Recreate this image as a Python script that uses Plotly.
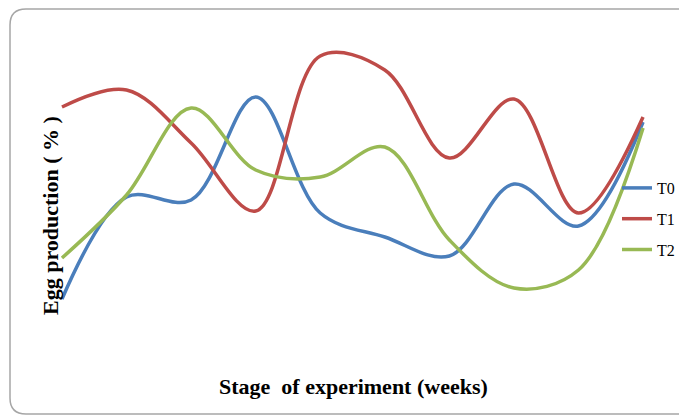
import plotly.graph_objects as go

weeks = [1, 2, 3, 4, 5, 6, 7, 8, 9, 10]
t0 = [20.2, 40.6, 40.0, 60.6, 37.4, 32.6, 28.8, 43.2, 34.8, 55.6]
t1 = [58.6, 62.0, 51.4, 37.8, 68.8, 66.0, 48.4, 60.2, 37.4, 56.6]
t2 = [28.4, 41.0, 58.4, 46.0, 44.6, 50.6, 32.0, 22.4, 26.0, 54.4]
names = ["T0", "T1", "T2"]
colors = ["#4A7EBB", "#BE4B48", "#98B954"]
SERIF = "Liberation Serif"

# page body has an 8px margin: work in window pixels, figure offset by 8
OFF = 8
W, H = 687 - OFF, 417 - OFF
ml, mr, mt, mb = 52, 0, 22, 67

fig = go.Figure()
for i, (nm, ys) in enumerate(zip(names, [t0, t1, t2])):
    fig.add_trace(go.Scatter(
        x=weeks, y=ys, name=nm, mode="lines", legendgroup=nm,
        line=dict(color=colors[i], width=3.5, shape="spline", smoothing=1.0),
    ))

pw, ph = W - ml - mr, H - mt - mb
def px(x):  # window pixel -> paper
    return (x - OFF - ml) / pw
def py(y):
    return (H - mb - (y - OFF)) / ph

x0, x1, y0, y1, r = 10, 700, 9, 414, 16
path = (f"M {px(x0 + r)},{py(y0)} L {px(x1 - r)},{py(y0)} "
        f"Q {px(x1)},{py(y0)} {px(x1)},{py(y0 + r)} L {px(x1)},{py(y1 - r)} "
        f"Q {px(x1)},{py(y1)} {px(x1 - r)},{py(y1)} L {px(x0 + r)},{py(y1)} "
        f"Q {px(x0)},{py(y1)} {px(x0)},{py(y1 - r)} L {px(x0)},{py(y0 + r)} "
        f"Q {px(x0)},{py(y0)} {px(x0 + r)},{py(y0)} Z")
fig.add_shape(type="path", path=path, xref="paper", yref="paper",
              line=dict(color="#A6A6A6", width=1.5), layer="below")

fig.add_annotation(text="<b>Egg production ( % )</b>", textangle=-90,
                   x=px(50), y=py(216), xref="paper", yref="paper",
                   xanchor="center", yanchor="middle", showarrow=False,
                   font=dict(size=22, family=SERIF, color="#000000"))
fig.add_annotation(text="<b>Stage  of experiment (weeks)</b>",
                   x=px(353), y=py(386), xref="paper", yref="paper",
                   xanchor="center", yanchor="middle", showarrow=False,
                   font=dict(size=22, family=SERIF, color="#000000"))

fig.update_layout(
    width=W, height=H,
    margin=dict(l=ml, r=mr, t=mt, b=mb),
    paper_bgcolor="white", plot_bgcolor="white",
    font=dict(family=SERIF, color="#000000"),
    showlegend=True,
    legend=dict(x=px(617), y=py(171), xanchor="left", yanchor="top",
                bgcolor="rgba(0,0,0,0)", font=dict(size=16, family=SERIF),
                traceorder="grouped", tracegroupgap=7),
    xaxis=dict(range=[0.969, 10.681], showgrid=False, zeroline=False,
               showticklabels=False, showline=False, ticks=""),
    yaxis=dict(range=[10, 74], showgrid=False, zeroline=False,
               showticklabels=False, showline=False, ticks=""),
)

fig.write_html("out.html")
